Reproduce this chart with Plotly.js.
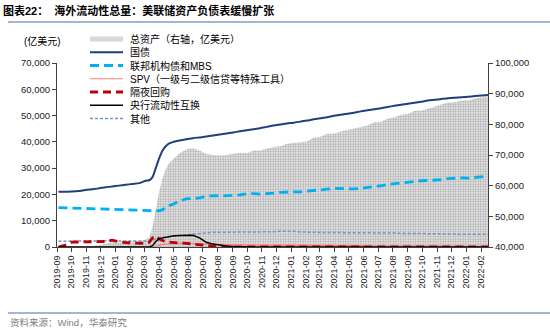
<!DOCTYPE html>
<html>
<head>
<meta charset="utf-8">
<script src="https://cdn.plot.ly/plotly-3.0.1.min.js"></script>
<style>html,body{margin:0;padding:0;background:#fff;}#chart{width:550px;height:331px;}</style>
</head>
<body>
<div id="chart"></div>
<script>
// ---- data (亿美元) ----
const dates = [
'2019-09-04','2019-09-18','2019-10-02','2019-10-16','2019-10-30','2019-11-13','2019-11-27','2019-12-11','2019-12-25',
'2020-01-08','2020-01-22','2020-02-05','2020-02-19',
'2020-03-04','2020-03-11','2020-03-18','2020-03-25',
'2020-04-01','2020-04-08','2020-04-15','2020-04-22','2020-04-29',
'2020-05-13','2020-05-27','2020-06-10','2020-06-24','2020-07-08','2020-07-22','2020-08-05','2020-08-19',
'2020-09-02','2020-09-16','2020-09-30','2020-10-14','2020-10-28','2020-11-11','2020-11-25','2020-12-09','2020-12-23',
'2021-01-06','2021-01-20','2021-02-03','2021-02-17','2021-03-03','2021-03-17','2021-03-31','2021-04-14','2021-04-28',
'2021-05-12','2021-05-26','2021-06-09','2021-06-23','2021-07-07','2021-07-21','2021-08-04','2021-08-18',
'2021-09-01','2021-09-15','2021-09-29','2021-10-13','2021-10-27','2021-11-10','2021-11-24','2021-12-08','2021-12-22',
'2022-01-05','2022-01-19','2022-02-02','2022-02-16'];

const totalAssets = [37600,38460,39450,39670,39800,40230,40550,41000,41650,
 41460,41600,41770,41900,
 42410,43120,46660,52540,
 58190,62500,65500,67500,68500,
 70500,71800,72200,71500,70300,70000,69800,70000,
 70300,70700,70600,71360,71480,72120,72600,72890,73650,
 73950,74240,74380,75740,75950,76900,76940,77640,78090,
 78660,79020,79610,80640,80880,81820,82350,83150,
 83400,84420,84470,85100,85900,86500,87100,87200,87800,
 87800,88400,88800,89200];

const treasuries = [21000,21050,21100,21300,21700,22000,22300,22700,23000,
 23350,23650,24000,24300,
 25200,25400,26600,30100,
 33800,36700,38400,39400,39900,
 40500,41000,41400,41700,42000,42400,42800,43200,
 43600,44000,44400,44800,45200,45700,46200,46600,47000,
 47300,47700,48100,48600,49000,49400,49900,50300,50700,
 51100,51600,52000,52400,52800,53300,53700,54100,
 54500,54900,55300,55700,56000,56300,56600,56800,57000,
 57200,57400,57600,57800];

const agencyMbs = [15000,14900,14800,14700,14650,14600,14500,14450,14400,
 14300,14200,14150,14050,
 13900,13800,13750,13700,
 13750,14200,15200,15800,16200,
 17500,18300,18400,18700,19300,19500,19400,19500,
 19700,19800,20200,20300,20100,20200,20500,20800,21000,
 21000,21000,21200,21500,21700,22000,22300,22200,22000,
 22100,22300,22600,22800,23300,23800,24100,24500,
 24700,25000,25200,25300,25400,25600,26000,26200,26300,
 26200,26400,26800,27000];

const spv = [0,0,0,0,0,0,0,0,0,
 0,0,0,0,
 0,0,0,300,
 800,1000,1100,1200,1300,
 1400,1400,1300,1200,1100,1000,900,900,
 800,800,800,700,700,700,700,700,700,
 700,600,600,600,600,500,500,500,500,
 500,500,400,400,400,400,400,300,
 300,300,300,300,300,200,200,200,200,
 200,200,200,200];

const repo = [0,750,1850,1900,1900,2000,1950,2100,2600,
 2000,1700,1650,1500,
 1300,1800,3500,4200,
 3000,2500,2000,1900,1700,
 1500,1400,1200,900,600,300,100,0,
 0,0,0,0,0,0,0,0,0,
 0,0,0,0,0,0,0,0,0,
 0,0,0,0,0,0,0,0,
 0,0,0,0,0,0,0,0,0,
 0,0,0,0];

const swaps = [0,0,0,0,0,0,0,0,0,
 0,0,0,0,
 0,0,500,2100,
 3200,3500,3700,4000,4200,
 4400,4450,4450,3500,1800,1100,700,400,
 200,100,50,0,0,0,0,0,0,
 0,0,0,0,0,0,0,0,0,
 0,0,0,0,0,0,0,0,
 0,0,0,0,0,0,0,0,0,
 0,0,0,0];

const others = [2200,2250,2300,2300,2300,2300,2300,2300,2350,
 2300,2300,2300,2300,
 2300,2300,2600,3000,
 3400,3700,3800,3900,4000,
 4300,4600,4900,5200,5500,5600,5600,5600,
 5600,5600,5700,5700,5700,5700,5800,6000,6100,
 6000,5700,5600,5600,5500,5500,5500,5500,5500,
 5400,5400,5400,5400,5300,5300,5300,5200,
 5200,5200,5100,5100,5100,5000,5000,4900,4900,
 4900,4900,4800,4800];

const seriesNames = ['总资产（右轴，亿美元）','国债','联邦机构债和MBS','SPV（一级与二级信贷等特殊工具）','隔夜回购','央行流动性互换','其他'];
const titleText = '图表22：\u00a0\u00a0海外流动性总量：美联储资产负债表缓慢扩张';
const sourceText = '资料来源：Wind，华泰研究';
const unitText = '(亿美元)';

// ---- styles ----
const C = {navy:'#1f3f7d', mbs:'#00b0f0', spv:'#ff7c80', repo:'#c00000', swap:'#000000', other:'#7593c4'};
const FONT = '"Liberation Sans", Arial, "Noto Sans CJK SC", sans-serif';
const CJK = '"Liberation Sans", "Noto Sans CJK SC", sans-serif';

const W = 550, H = 331, ML = 57, MR = 62, MT = 63, MB = 84;
const PW = W - ML - MR, PH = H - MT - MB;
const px2x = p => (p - ML) / PW;
const py2y = p => (H - MB - p) / PH;

const traces = [
  {x: dates, y: totalAssets, yaxis: 'y', type: 'scatter', mode: 'lines', fill: 'tozeroy',
   line: {width: 0, color: '#d0d0d0'},
   fillpattern: {shape: '.', bgcolor: '#eeeeee', fgcolor: '#a6a6a6', size: 2.5, solidity: 0.45},
   name: seriesNames[0], hoverinfo: 'skip'},
  {x: dates, y: others, yaxis: 'y2', type: 'scatter', mode: 'lines', line: {color: C.other, width: 1.5, dash: '3px,2px'}, name: seriesNames[6]},
  {x: dates, y: agencyMbs, yaxis: 'y2', type: 'scatter', mode: 'lines', line: {color: C.mbs, width: 2.8, dash: '9px,5px'}, name: seriesNames[2]},
  {x: dates, y: treasuries, yaxis: 'y2', type: 'scatter', mode: 'lines', line: {color: C.navy, width: 2, shape: 'spline', smoothing: 0.6}, name: seriesNames[1]},
  {x: dates, y: spv, yaxis: 'y2', type: 'scatter', mode: 'lines', line: {color: C.spv, width: 1.2}, name: seriesNames[3]},
  {x: dates, y: repo, yaxis: 'y2', type: 'scatter', mode: 'lines', line: {color: C.repo, width: 2.8, dash: '8px,5px'}, name: seriesNames[4]},
  {x: dates, y: swaps, yaxis: 'y2', type: 'scatter', mode: 'lines', line: {color: C.swap, width: 1.5}, name: seriesNames[5]}
];

// manual legend
const legendColors = [null, C.navy, C.mbs, C.spv, C.repo, C.swap, C.other];
const legendDash = [null, 'solid', '9px,5px', 'solid', '8px,5px', 'solid', '3px,2px'];
const legendWidth = [0, 2, 2.8, 1.2, 2.8, 1.5, 1.5];
const shapes = [];
const annotations = [];
for (let i = 0; i < seriesNames.length; i++) {
  const py = 39 + 13.25 * i;
  if (i === 0) {
    shapes.push({type: 'rect', xref: 'paper', yref: 'paper', x0: px2x(90), x1: px2x(123), y0: py2y(py + 2.5), y1: py2y(py - 2.5),
      fillcolor: '#d8d8d8', line: {width: 0}});
  } else {
    shapes.push({type: 'line', xref: 'paper', yref: 'paper', x0: px2x(90), x1: px2x(123), y0: py2y(py), y1: py2y(py),
      line: {color: legendColors[i], width: legendWidth[i], dash: legendDash[i]}});
  }
  annotations.push({xref: 'paper', yref: 'paper', x: px2x(128), y: py2y(py), xanchor: 'left', yanchor: 'middle',
    text: seriesNames[i], showarrow: false, font: {family: CJK, size: 10, color: '#000'}});
}
// header/footer rules
shapes.push({type: 'line', xref: 'paper', yref: 'paper', x0: px2x(8), x1: px2x(550), y0: py2y(22), y1: py2y(22), line: {color: '#a3b7d3', width: 2}});
shapes.push({type: 'line', xref: 'paper', yref: 'paper', x0: px2x(8), x1: px2x(550), y0: py2y(313), y1: py2y(313), line: {color: '#a3b7d3', width: 2}});
annotations.push({xref: 'paper', yref: 'paper', x: px2x(42), y: py2y(41), xanchor: 'center', yanchor: 'middle', text: unitText, showarrow: false,
  font: {family: CJK, size: 10, color: '#000'}});
annotations.push({xref: 'paper', yref: 'paper', x: px2x(8), y: py2y(322), xanchor: 'left', yanchor: 'middle', text: sourceText, showarrow: false,
  font: {family: CJK, size: 9.5, color: '#7f7f7f'}});

const layout = {
  width: W, height: H,
  margin: {l: ML, r: MR, t: MT, b: MB, pad: 0},
  paper_bgcolor: '#fff', plot_bgcolor: '#fff',
  showlegend: false,
  title: {text: '<b>' + titleText + '</b>', xref: 'container', yref: 'container', x: 3 / W, xanchor: 'left', y: 1 - 11 / H, yanchor: 'middle',
    font: {family: CJK, size: 11, color: '#000'}},
  xaxis: {type: 'date', range: ['2019-09-01', '2022-02-15'], tick0: '2019-09-01', dtick: 'M1', tickformat: '%Y-%m', tickangle: -90,
    ticks: 'outside', ticklen: 4, tickcolor: '#404040', showline: true, linecolor: '#404040', linewidth: 1, showgrid: false, zeroline: false,
    tickfont: {family: FONT, size: 9, color: '#222'}},
  yaxis: {side: 'right', range: [40000, 100000], dtick: 10000, tickformat: ',d', ticks: 'outside', ticklen: 4, tickcolor: '#404040',
    showline: true, linecolor: '#404040', linewidth: 1, showgrid: false, zeroline: false,
    tickfont: {family: FONT, size: 9.5, color: '#222'}},
  yaxis2: {overlaying: 'y', side: 'left', range: [0, 70000], dtick: 10000, tickformat: ',d', ticks: 'outside', ticklen: 4, tickcolor: '#404040',
    showline: true, linecolor: '#404040', linewidth: 1, showgrid: false, zeroline: false,
    tickfont: {family: FONT, size: 9.5, color: '#222'}},
  shapes: shapes,
  annotations: annotations
};

Plotly.newPlot('chart', traces, layout, {staticPlot: true, displayModeBar: false});
</script>
</body>
</html>
